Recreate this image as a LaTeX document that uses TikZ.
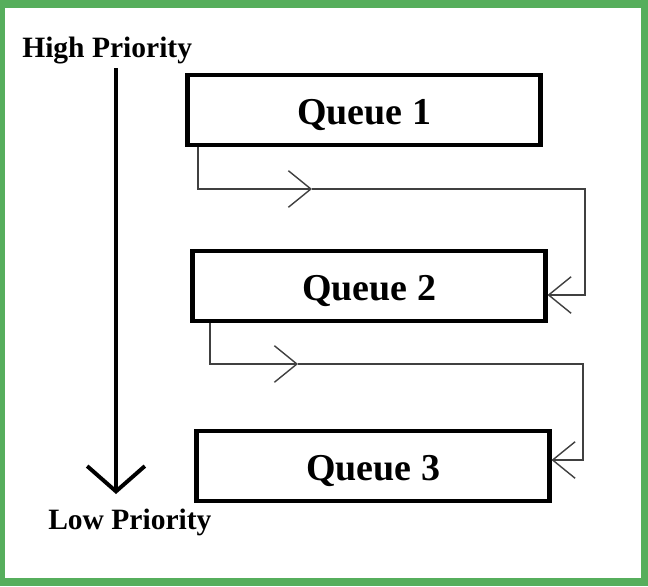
\documentclass[tikz,border=0pt]{standalone}
\usepackage{fontspec}
\setmainfont{Liberation Serif}
\usepackage{xcolor}
\usetikzlibrary{positioning,arrows.meta}
\definecolor{framegreen}{RGB}{86,174,92}

\begin{document}
\begin{tikzpicture}[x=0.025cm, y=-0.025cm,
  queue/.style={draw, line width=3.5pt, minimum width=8.8cm, minimum height=1.75cm, inner sep=0pt, text height=21pt, text depth=0pt, font=\fontsize{27}{27}\selectfont\bfseries},
  prio/.style={inner sep=0pt, font=\fontsize{21}{21}\selectfont\bfseries},
  link/.style={draw=black!75, line width=1pt},
  chev/.style={-{Straight Barb[length=16pt, width=26pt]}}]
  % Frame
  \useasboundingbox (0,0) rectangle (648,586);
  \fill[framegreen] (0,0) rectangle (648,586);
  \fill[white] (5,8) rectangle (641,578);
  % Priority labels and arrow
  \node[prio, anchor=base west] (hp) at (22,57) {High Priority};
  \node[prio, anchor=base west] (lp) at (48,529) {Low Priority};
  \coordinate (atop) at (116,68);
  \coordinate (abot) at (116,494);
  \draw[line width=2.8pt, -{Straight Barb[length=18pt, width=41pt]}] (atop) -- (abot);
  % Queues
  \node[queue] (q1) at (364,110) {Queue 1};
  \node[queue] (q2) at (369,286) {Queue 2};
  \node[queue] (q3) at (373,466) {Queue 3};
  % Queue 1 -> Queue 2
  \coordinate (m1) at (312,189);
  \coordinate (r1) at (585,295);
  \draw[link, chev] ([xshift=0.31cm]q1.south west) |- (m1);
  \draw[link, chev] (m1) -| (r1) -- (r1 -| q2.east);
  % Queue 2 -> Queue 3
  \coordinate (m2) at (298,364);
  \coordinate (r2) at (583,460);
  \draw[link, chev] ([xshift=0.49cm]q2.south west) |- (m2);
  \draw[link, chev] (m2) -| (r2) -- (r2 -| q3.east);
\end{tikzpicture}
\end{document}
